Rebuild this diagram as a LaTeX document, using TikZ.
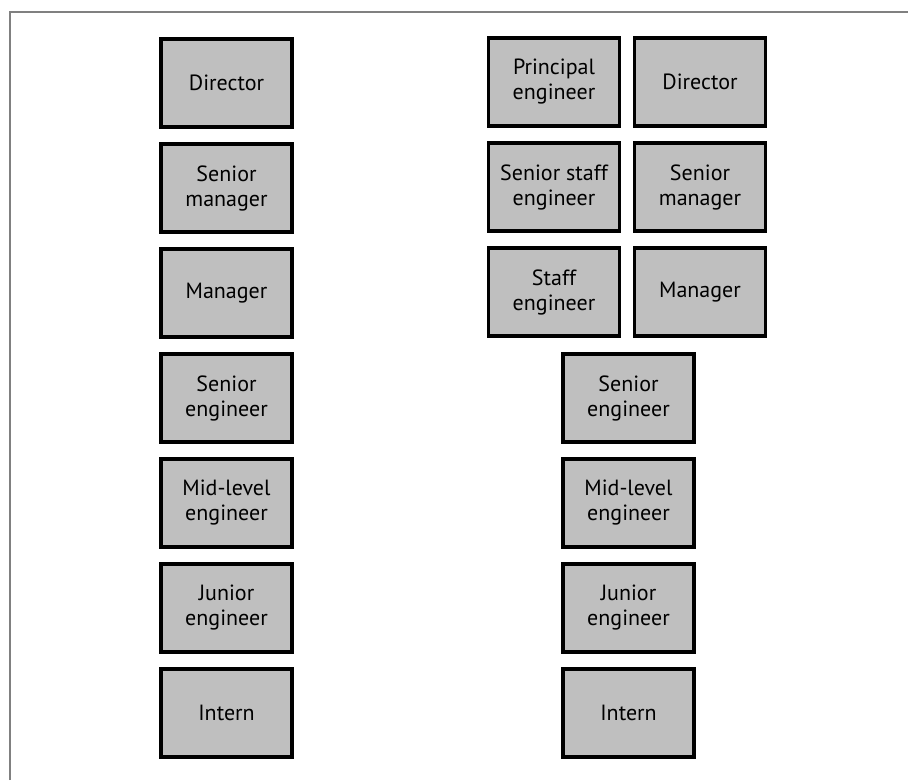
\documentclass[tikz,border=0pt]{standalone}
\usepackage{fontspec}
\setmainfont{PT Sans}
\begin{document}
\begin{tikzpicture}[x=1pt,y=-1pt,
  rolebox/.style={draw=black, line width=3.5pt, fill=black!25, minimum width=131pt, minimum height=88pt, inner sep=0pt, align=center, font=\fontsize{22}{25}\selectfont},
  frameline/.style={draw=black!50, line width=1.8pt}]
\useasboundingbox (0,0) rectangle (908,780);
\coordinate (fa) at (10,780);
\coordinate (fb) at (10,12);
\coordinate (fc) at (908,12);
\draw[frameline] (fa) -- (fb) -- (fc);
% left column
\node[rolebox] (l1) at (226.5,83) {Director};
\node[rolebox] (l2) at (226.5,188) {Senior\\manager};
\node[rolebox] (l3) at (226.5,293) {Manager};
\node[rolebox] (l4) at (226.5,398) {Senior\\engineer};
\node[rolebox] (l5) at (226.5,503) {Mid-level\\engineer};
\node[rolebox] (l6) at (226.5,608) {Junior\\engineer};
\node[rolebox] (l7) at (226.5,713) {Intern};
% right columns
\node[rolebox] (r1a) at (554,82) {Principal\\engineer};
\node[rolebox] (r1b) at (700,82) {Director};
\node[rolebox] (r2a) at (554,187) {Senior staff\\engineer};
\node[rolebox] (r2b) at (700,187) {Senior\\manager};
\node[rolebox] (r3a) at (554,292) {Staff\\engineer};
\node[rolebox] (r3b) at (700,292) {Manager};
\node[rolebox] (r4) at (628.5,398) {Senior\\engineer};
\node[rolebox] (r5) at (628.5,503) {Mid-level\\engineer};
\node[rolebox] (r6) at (628.5,608) {Junior\\engineer};
\node[rolebox] (r7) at (628.5,713) {Intern};
\end{tikzpicture}
\end{document}
